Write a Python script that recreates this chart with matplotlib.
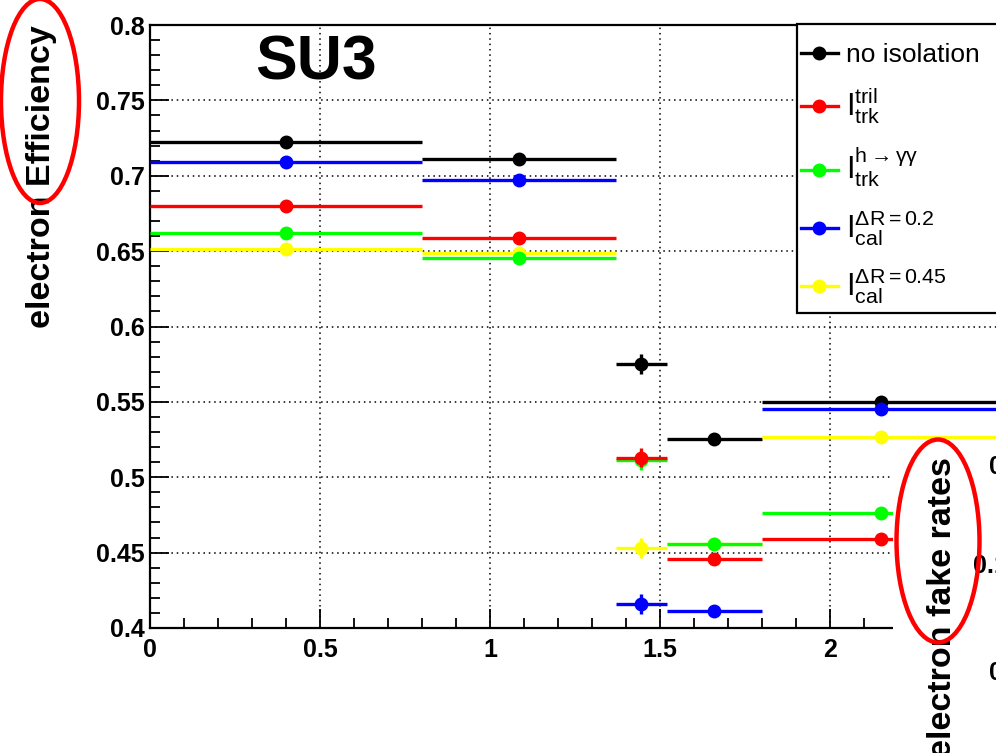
import matplotlib
matplotlib.use("Agg")
import matplotlib.pyplot as plt
import numpy as np
from matplotlib.patches import Ellipse, Rectangle
from matplotlib.lines import Line2D

plt.rcParams["font.family"] = ["Liberation Sans", "DejaVu Sans"]
plt.rcParams["mathtext.fontset"] = "custom"
plt.rcParams["mathtext.rm"] = "Liberation Sans"
plt.rcParams["mathtext.it"] = "Liberation Sans"

# bins in eta
bin_edges = [0.0, 0.8, 1.37, 1.52, 1.8, 2.5]
y_err = [0.002, 0.002, 0.0065, 0.004, 0.004]

eff_none = [0.7226, 0.7111, 0.5753, 0.5252, 0.5501]
eff_tril = [0.6799, 0.6589, 0.5130, 0.4456, 0.4588]
eff_hgg = [0.6618, 0.6452, 0.5112, 0.4557, 0.4761]
eff_cal02 = [0.7089, 0.6972, 0.4159, 0.4115, 0.5453]
eff_cal045 = [0.6512, 0.6486, 0.4531, 0.4557, 0.5265]

labels = [
    "no isolation",
    r"$\mathrm{I}_{\mathrm{trk}}^{\mathrm{tril}}$",
    r"$\mathrm{I}_{\mathrm{trk}}^{\mathrm{h}\rightarrow\gamma\gamma}$",
    r"$\mathrm{I}_{\mathrm{cal}}^{\Delta\mathrm{R=0.2}}$",
    r"$\mathrm{I}_{\mathrm{cal}}^{\Delta\mathrm{R=0.45}}$",
]
colors = ["black", "#ff0000", "#00ff00", "#0000ff", "#ffff00"]
series = [eff_none, eff_tril, eff_hgg, eff_cal02, eff_cal045]
zorders = [3, 6, 5, 7, 4]

W, H = 996, 753
fig = plt.figure(figsize=(W / 100, H / 100), dpi=100)
ax = fig.add_axes([150 / W, 1 - 628 / H, 850 / W, 603 / H])

edges = np.array(bin_edges)
centers = (edges[:-1] + edges[1:]) / 2
half = (edges[1:] - edges[:-1]) / 2

handles = []
for vals, col, lab, z in zip(series, colors, labels, zorders):
    ax.errorbar(centers, vals, xerr=half, yerr=y_err, fmt="o", color=col,
                ms=9, elinewidth=2.4, capsize=0, zorder=z, clip_on=False)
    handles.append(Line2D([], [], color=col, marker="o", ms=9, lw=2.4, label=lab))

ax.set_xlim(0, 2.5)
ax.set_ylim(0.4, 0.8)
ax.set_xticks([0, 0.5, 1, 1.5, 2, 2.5])
ax.set_xticklabels(["0", "0.5", "1", "1.5", "2", ""])
ax.set_xticks(np.arange(0, 2.5, 0.1), minor=True)
ax.set_yticks(np.arange(0.4, 0.801, 0.05))
ax.set_yticklabels(["0.4", "0.45", "0.5", "0.55", "0.6", "0.65", "0.7", "0.75", "0.8"])
ax.set_yticks(np.arange(0.4, 0.801, 0.01), minor=True)
ax.tick_params(which="both", direction="in", width=1.3, labelsize=18)
ax.tick_params(which="major", length=14, pad=4)
ax.tick_params(which="minor", length=7)
ax.tick_params(axis="x", which="major", pad=7)
for lab in ax.get_xticklabels() + ax.get_yticklabels():
    lab.set_fontweight("bold")
for sp in ax.spines.values():
    sp.set_linewidth(1.6)

for gx in [0.5, 1, 1.5, 2]:
    ax.axvline(gx, color="black", lw=1.1, ls=(0, (1, 2.5)), zorder=1)
for gy in [0.45, 0.5, 0.55, 0.6, 0.65, 0.7, 0.75]:
    ax.axhline(gy, color="black", lw=1.1, ls=(0, (1, 2.5)), zorder=1)

ax.text(316 / W, 1 - 63 / H, "SU3", transform=fig.transFigure, ha="center",
        va="center", fontsize=45, fontweight="bold")

# legend box
fig.add_artist(Rectangle((797 / W, 1 - 313 / H), 220 / W, 289 / H, transform=fig.transFigure,
                         facecolor="white", edgecolor="black", lw=1.6, zorder=4))
leg = fig.legend(handles=handles, loc="upper left", bbox_to_anchor=(801 / W, 1 - 43 / H),
                 fontsize=19, frameon=False, handlelength=1.4, handletextpad=0.3,
                 labelspacing=0.70, borderpad=0, borderaxespad=0)
leg.set_zorder(5)
for t in leg.get_texts()[1:]:
    t.set_fontsize(22)

fig.text(42 / W, 1 - 25 / H, "electron Efficiency", rotation=90, ha="center",
         va="top", fontsize=24.5, fontweight="bold")

# neighbouring plot on the slide covers the lower right corner
fig.add_artist(Rectangle((893 / W, 0), 110 / W, 1 - 452 / H, transform=fig.transFigure,
                         facecolor="white", edgecolor="none", zorder=10))
fig.text(942 / W, 1 - 457 / H, "electron fake rates", rotation=90, ha="center",
         va="top", fontsize=24.5, fontweight="bold", zorder=11)
for yy, xx, txt in [(467, 989, "0.2"), (566, 973, "0.15"), (673, 989, "0.1")]:
    fig.text(xx / W, 1 - yy / H, txt, ha="left", va="center", fontsize=18,
             fontweight="bold", zorder=11)

for cx, cy, ew, eh in [(40, 101, 78, 204), (938, 541, 83, 203)]:
    fig.add_artist(Ellipse((cx / W, 1 - cy / H), ew / W, eh / H, transform=fig.transFigure,
                           facecolor="none", edgecolor="#ff0000", lw=3.2, zorder=12))

fig.savefig("out.png", dpi=100)
